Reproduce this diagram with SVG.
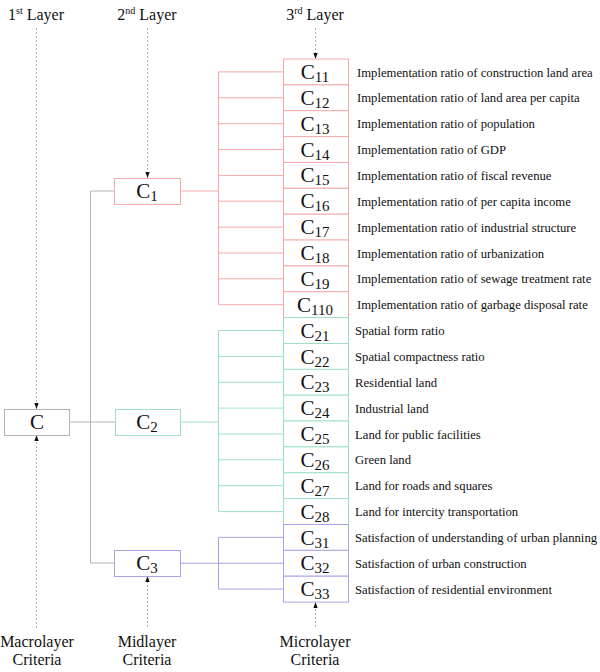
<svg xmlns="http://www.w3.org/2000/svg" width="600" height="672" viewBox="0 0 600 672">
<defs>
<marker id="arr" markerUnits="userSpaceOnUse" markerWidth="6" markerHeight="6" refX="7" refY="2.5" orient="auto" viewBox="0 0 7 5">
<path d="M0,0 L7,2.5 L0,5 z" fill="#111"/>
</marker>
<style>
text{font-family:"Liberation Serif","Times New Roman",serif;fill:#111}
.hd{font-size:16px;text-anchor:middle}
.sup{font-size:10px}
.c{font-size:21px;text-anchor:middle}
.sub{font-size:15px}
.lb{font-size:12.7px}
.box{fill:#fff;stroke-width:1}
.r{stroke:#f5a9a9}
.g{stroke:#9fe0c4}
.b{stroke:#aba3e8}
.k{stroke:#b4b4b4}
.ln{fill:none;stroke-width:1}
.dot{fill:none;stroke:#b0b0b0;stroke-width:1;stroke-dasharray:2 2}
</style>
</defs>
<rect width="600" height="672" fill="#fff"/>

<g id="headers">
<text class="hd" x="36" y="20">1<tspan class="sup" dy="-6">st</tspan><tspan dy="6"> Layer</tspan></text>
<text class="hd" x="147" y="20">2<tspan class="sup" dy="-6">nd</tspan><tspan dy="6"> Layer</tspan></text>
<text class="hd" x="315" y="20">3<tspan class="sup" dy="-6">rd</tspan><tspan dy="6">  Layer</tspan></text>
</g>
<g id="footers">
<text class="hd" x="37" y="647">Macrolayer</text>
<text class="hd" x="37" y="665">Criteria</text>
<text class="hd" x="147" y="647">Midlayer</text>
<text class="hd" x="147" y="665">Criteria</text>
<text class="hd" x="315" y="647">Microlayer</text>
<text class="hd" x="315" y="665">Criteria</text>
</g>

<g id="connectors">
<path class="dot" d="M36.5,28 V409" marker-end="url(#arr)"/>
<path class="dot" d="M36.5,628 V435" marker-end="url(#arr)"/>
<path class="dot" d="M147.5,28 V178" marker-end="url(#arr)"/>
<path class="dot" d="M147.5,627 V576" marker-end="url(#arr)"/>
<path class="dot" d="M315.5,28 V59" marker-end="url(#arr)"/>
<path class="dot" d="M315.5,627 V602" marker-end="url(#arr)"/>
<path class="ln k" d="M69,422 H115 M115,191 H90.5 V563 H115"/>
<path class="ln r" d="M180,191 H218.5 M283,71.9 H218.5 V304.7 H283 M218.5,97.8 H283 M218.5,123.7 H283 M218.5,149.5 H283 M218.5,175.4 H283 M218.5,201.2 H283 M218.5,227.1 H283 M218.5,253 H283 M218.5,278.8 H283"/>
<path class="ln g" d="M180,422 H218.5 M283,330.5 H218.5 V511.6 H283 M218.5,356.4 H283 M218.5,382.3 H283 M218.5,408.1 H283 M218.5,434 H283 M218.5,459.8 H283 M218.5,485.7 H283"/>
<path class="ln b" d="M180,563.3 H283 M283,537.4 H218.5 V589.1 H283"/>
</g>

<g id="C"><rect class="box k" x="4.5" y="409.5" width="65" height="26"/><text class="c" x="37" y="429">C</text></g>
<g id="C1"><rect class="box r" x="114.5" y="178.5" width="66" height="26"/><text class="c" x="147" y="198">C<tspan class="sub" dy="3">1</tspan></text></g>
<g id="C2"><rect class="box g" x="115.5" y="409.5" width="65" height="26"/><text class="c" x="147" y="429">C<tspan class="sub" dy="3">2</tspan></text></g>
<g id="C3"><rect class="box b" x="114.5" y="550.5" width="66" height="26"/><text class="c" x="147" y="570">C<tspan class="sub" dy="3">3</tspan></text></g>

<g id="C11"><rect class="box r" x="283.5" y="59" width="65" height="25.9"/><text class="c" x="315" y="79">C<tspan class="sub" dy="3">11</tspan></text><text class="lb" x="357" y="76.5">Implementation ratio of construction land area</text></g>
<g id="C12"><rect class="box r" x="283.5" y="84.9" width="65" height="25.9"/><text class="c" x="315" y="104.9">C<tspan class="sub" dy="3">12</tspan></text><text class="lb" x="357" y="102.4">Implementation ratio of land area per capita</text></g>
<g id="C13"><rect class="box r" x="283.5" y="110.7" width="65" height="25.9"/><text class="c" x="315" y="130.7">C<tspan class="sub" dy="3">13</tspan></text><text class="lb" x="357" y="128.2">Implementation ratio of population</text></g>
<g id="C14"><rect class="box r" x="283.5" y="136.6" width="65" height="25.9"/><text class="c" x="315" y="156.6">C<tspan class="sub" dy="3">14</tspan></text><text class="lb" x="357" y="154.1">Implementation ratio of GDP</text></g>
<g id="C15"><rect class="box r" x="283.5" y="162.4" width="65" height="25.9"/><text class="c" x="315" y="182.4">C<tspan class="sub" dy="3">15</tspan></text><text class="lb" x="357" y="179.9">Implementation ratio of fiscal revenue</text></g>
<g id="C16"><rect class="box r" x="283.5" y="188.3" width="65" height="25.9"/><text class="c" x="315" y="208.3">C<tspan class="sub" dy="3">16</tspan></text><text class="lb" x="357" y="205.8">Implementation ratio of per capita income</text></g>
<g id="C17"><rect class="box r" x="283.5" y="214.2" width="65" height="25.9"/><text class="c" x="315" y="234.2">C<tspan class="sub" dy="3">17</tspan></text><text class="lb" x="357" y="231.7">Implementation ratio of industrial structure</text></g>
<g id="C18"><rect class="box r" x="283.5" y="240" width="65" height="25.9"/><text class="c" x="315" y="260">C<tspan class="sub" dy="3">18</tspan></text><text class="lb" x="357" y="257.5">Implementation ratio of urbanization</text></g>
<g id="C19"><rect class="box r" x="283.5" y="265.9" width="65" height="25.9"/><text class="c" x="315" y="285.9">C<tspan class="sub" dy="3">19</tspan></text><text class="lb" x="357" y="283.4">Implementation ratio of sewage treatment rate</text></g>
<g id="C110"><rect class="box r" x="283.5" y="291.7" width="65" height="25.9"/><text class="c" x="315" y="311.7">C<tspan class="sub" dy="3">110</tspan></text><text class="lb" x="357" y="309.2">Implementation ratio of garbage disposal rate</text></g>

<g id="C21"><rect class="box g" x="283.5" y="317.6" width="65" height="25.9"/><text class="c" x="315" y="337.6">C<tspan class="sub" dy="3">21</tspan></text><text class="lb" x="355" y="335.1">Spatial form ratio</text></g>
<g id="C22"><rect class="box g" x="283.5" y="343.5" width="65" height="25.9"/><text class="c" x="315" y="363.5">C<tspan class="sub" dy="3">22</tspan></text><text class="lb" x="355" y="361">Spatial compactness ratio</text></g>
<g id="C23"><rect class="box g" x="283.5" y="369.3" width="65" height="25.9"/><text class="c" x="315" y="389.3">C<tspan class="sub" dy="3">23</tspan></text><text class="lb" x="355" y="386.8">Residential land</text></g>
<g id="C24"><rect class="box g" x="283.5" y="395.2" width="65" height="25.9"/><text class="c" x="315" y="415.2">C<tspan class="sub" dy="3">24</tspan></text><text class="lb" x="355" y="412.7">Industrial land</text></g>
<g id="C25"><rect class="box g" x="283.5" y="421" width="65" height="25.9"/><text class="c" x="315" y="441">C<tspan class="sub" dy="3">25</tspan></text><text class="lb" x="355" y="438.5">Land for public facilities</text></g>
<g id="C26"><rect class="box g" x="283.5" y="446.9" width="65" height="25.9"/><text class="c" x="315" y="466.9">C<tspan class="sub" dy="3">26</tspan></text><text class="lb" x="355" y="464.4">Green land</text></g>
<g id="C27"><rect class="box g" x="283.5" y="472.8" width="65" height="25.9"/><text class="c" x="315" y="492.8">C<tspan class="sub" dy="3">27</tspan></text><text class="lb" x="355" y="490.3">Land for roads and squares</text></g>
<g id="C28"><rect class="box g" x="283.5" y="498.6" width="65" height="25.9"/><text class="c" x="315" y="518.6">C<tspan class="sub" dy="3">28</tspan></text><text class="lb" x="355" y="516.1">Land for intercity transportation</text></g>

<g id="C31"><rect class="box b" x="283.5" y="524.5" width="65" height="25.9"/><text class="c" x="315" y="544.5">C<tspan class="sub" dy="3">31</tspan></text><text class="lb" x="355" y="542">Satisfaction of understanding of urban planning</text></g>
<g id="C32"><rect class="box b" x="283.5" y="550.3" width="65" height="25.9"/><text class="c" x="315" y="570.3">C<tspan class="sub" dy="3">32</tspan></text><text class="lb" x="355" y="567.8">Satisfaction of urban construction</text></g>
<g id="C33"><rect class="box b" x="283.5" y="576.2" width="65" height="25.9"/><text class="c" x="315" y="596.2">C<tspan class="sub" dy="3">33</tspan></text><text class="lb" x="355" y="593.7">Satisfaction of residential environment</text></g>
</svg>
